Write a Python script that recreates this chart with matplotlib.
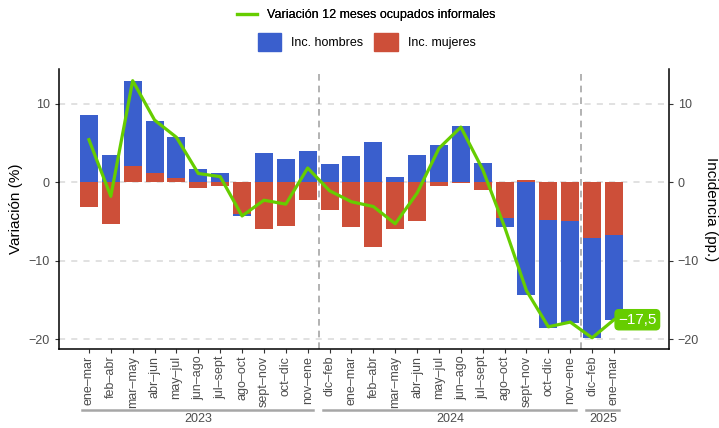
import numpy as np
import matplotlib
matplotlib.use('Agg')
import matplotlib.pyplot as plt
from matplotlib.lines import Line2D
from matplotlib.patches import Patch
from matplotlib.transforms import blended_transform_factory

plt.rcParams['font.family'] = ['Liberation Sans', 'DejaVu Sans']

periodos = ['ene–mar', 'feb–abr', 'mar–may', 'abr–jun', 'may–jul', 'jun–ago',
            'jul–sept', 'ago–oct', 'sept–nov', 'oct–dic', 'nov–ene',
            'dic–feb', 'ene–mar', 'feb–abr', 'mar–may', 'abr–jun', 'may–jul',
            'jun–ago', 'jul–sept', 'ago–oct', 'sept–nov', 'oct–dic', 'nov–ene',
            'dic–feb', 'ene–mar']
anios = ['2023', '2024', '2025']
anio_rango = [(0, 10), (11, 22), (23, 24)]

inc_hombres = [8.5, 3.5, 10.8, 6.6, 5.2, 1.7, 1.1, -0.2, 3.7, 2.9, 4.0,
               2.3, 3.3, 5.1, 0.6, 3.5, 4.7, 7.1, 2.4, -1.2, -14.3, -13.7,
               -12.9, -12.7, -10.8]
inc_mujeres = [-3.1, -5.3, 2.1, 1.2, 0.5, -0.8, -0.5, -4.1, -6.0, -5.6, -2.3,
               -3.5, -5.7, -8.3, -6.0, -5.0, -0.5, -0.05, -1.0, -4.5, 0.3,
               -4.8, -5.0, -7.1, -6.7]
var_informales = [5.4, -1.8, 12.9, 7.9, 5.7, 1.1, 0.7, -4.3, -2.3, -2.8, 1.8,
                  -1.1, -2.5, -3.1, -5.3, -1.4, 4.3, 7.0, 1.6, -5.7, -13.8,
                  -18.4, -17.8, -19.8, -17.5]

azul = '#3A5FCD'
rojo = '#CD4F39'
verde = '#66CD00'
gris_txt = '#4D4D4D'

x = np.arange(len(periodos))
h = np.array(inc_hombres)
m = np.array(inc_mujeres)
# apilado por signo, como en ggplot: mujeres junto al cero
base_h = np.where(np.sign(h) == np.sign(m), m, 0)

fig = plt.figure(figsize=(7.19, 4.28), dpi=100)
ax = fig.add_axes([0.082, 0.185, 0.848, 0.654])

ax.bar(x, m, width=0.82, color=rojo, zorder=2)
ax.bar(x, h, width=0.82, bottom=base_h, color=azul, zorder=2)
ax.plot(x, var_informales, color=verde, lw=2.3, zorder=3)

for xv in [10.5, 22.5]:
    ax.axvline(xv, color='#A6A6A6', lw=1.2, ls=(0, (4, 3)), zorder=1)

ax.annotate('−17,5', xy=(x[-1], var_informales[-1]), xytext=(3, 0),
            textcoords='offset points', ha='left', va='center',
            fontsize=11, color='white', zorder=5,
            bbox=dict(boxstyle='round,pad=0.2,rounding_size=0.25',
                      fc=verde, ec=verde))

ax.set_xlim(-1.37, 26.5)
ax.set_ylim(-21.2, 14.4)
ax.set_yticks([-20, -10, 0, 10])
ax.yaxis.grid(True, color='#D9D9D9', lw=1.1, ls=(0, (4, 4)), zorder=0)
ax.set_axisbelow(True)
ax.set_xticks(x)
ax.set_xticklabels(periodos, rotation=90, fontsize=9, color=gris_txt)
ax.tick_params(axis='x', length=3, pad=2, color='#333333')
ax.tick_params(axis='y', length=3, labelsize=9, labelcolor=gris_txt,
               color='#333333')
ax.set_ylabel('Variación (%)', fontsize=11)
for s in ['top', 'right']:
    ax.spines[s].set_visible(False)
for s in ['left', 'bottom']:
    ax.spines[s].set_linewidth(1.1)

ax2 = ax.twinx()
ax2.set_ylim(ax.get_ylim())
ax2.set_yticks([-20, -10, 0, 10])
ax2.tick_params(axis='y', length=3, labelsize=9, labelcolor=gris_txt,
                color='#333333')
ax2.set_ylabel('Incidencia (pp.)', fontsize=11, rotation=-90, labelpad=14)
for s in ['top', 'left', 'bottom']:
    ax2.spines[s].set_visible(False)
ax2.spines['right'].set_linewidth(1.1)

# años bajo el eje
tr = blended_transform_factory(ax.transData, ax.transAxes)
for anio, (i0, i1) in zip(anios, anio_rango):
    ax.plot([i0 - 0.3, i1 + 0.25], [-0.219, -0.219], color='#A6A6A6',
            lw=1.8, transform=tr, clip_on=False)
    ax.text((i0 + i1) / 2, -0.252, anio, transform=tr, ha='center',
            va='center', fontsize=9, color=gris_txt)

leg1 = fig.legend(handles=[Line2D([], [], color=verde, lw=2.3)],
                  labels=['Variación 12 meses ocupados informales'],
                  loc='center', bbox_to_anchor=(0.51, 0.965), frameon=False,
                  fontsize=9, handlelength=1.6, handletextpad=0.8)
fig.legend(handles=[Patch(color=azul), Patch(color=rojo)],
           labels=['Inc. hombres', 'Inc. mujeres'], ncol=2,
           loc='center', bbox_to_anchor=(0.51, 0.902), frameon=False,
           fontsize=9, handlelength=1.85, handleheight=1.85,
           handletextpad=0.8, columnspacing=0.9)
fig.add_artist(leg1)

fig.savefig('out.png', dpi=100)
plt.close('all')
